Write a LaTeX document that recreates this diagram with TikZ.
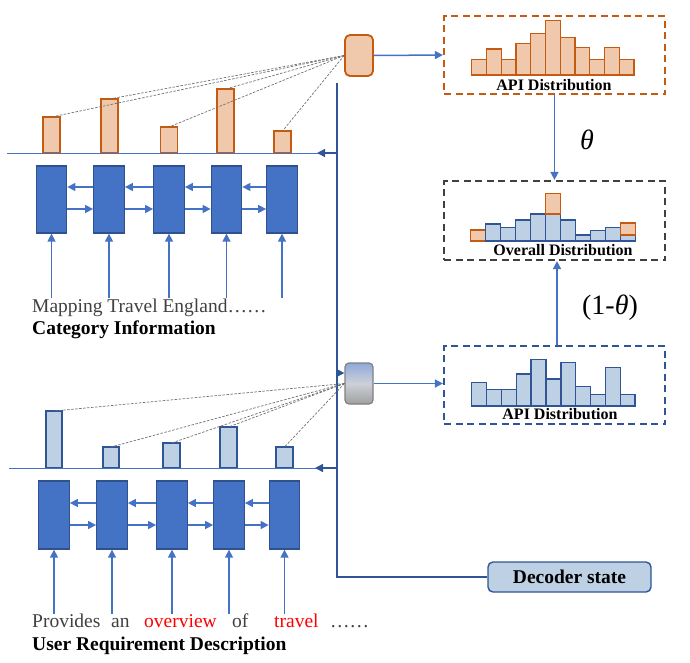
\documentclass[tikz,border=0pt]{standalone}
\usepackage{fontspec}
\setmainfont{Liberation Serif}
\usetikzlibrary{arrows.meta,calc}
\definecolor{olight}{HTML}{F0C8AC}
\definecolor{odark}{HTML}{C55A11}
\definecolor{blight}{HTML}{BDD0E4}
\definecolor{bdark}{HTML}{2F5597}
\definecolor{lstmfill}{HTML}{4472C4}
\definecolor{lstmline}{HTML}{2F528F}
\definecolor{arrblue}{HTML}{4472C4}
\definecolor{txtgray}{HTML}{404040}
\definecolor{boxgray}{HTML}{404040}
\definecolor{attgray}{HTML}{707070}
\definecolor{txtred}{HTML}{FF0000}
\definecolor{gtop}{HTML}{8EA9DB}
\definecolor{gmid}{HTML}{CDD0D8}
\definecolor{gbot}{HTML}{A0A0A0}
\begin{document}
\begin{tikzpicture}[x=1pt,y=-1pt,
  lstm/.style={draw=lstmline,fill=lstmfill,line width=1.3pt,minimum width=30.5,minimum height=67,inner sep=0pt},
  obar/.style={draw=odark,fill=olight,line width=1.6pt,minimum width=17,inner sep=0pt},
  bbar/.style={draw=bdark,fill=blight,line width=1.6pt,minimum width=16.5,inner sep=0pt},
  obarr/.style={draw=odark,fill=olight,line width=1.4pt},
  bbarr/.style={draw=bdark,fill=blight,line width=1.4pt},
  arr/.style={draw=arrblue,line width=1.5pt,-{Triangle[length=8pt,width=8pt]}},
  darr/.style={draw=bdark,line width=1.5pt,-{Triangle[length=8pt,width=8pt]}},
  hline/.style={draw=arrblue,line width=1pt},
  vline/.style={draw=bdark,line width=1.5pt},
  att/.style={draw=attgray,line width=0.7pt,dash pattern=on 2.5pt off 1.5pt},
  distbox/.style={line width=2.2pt,dash pattern=on 7pt off 4.5pt,minimum width=221,minimum height=78,inner sep=0pt},
  txt/.style={inner sep=0pt,anchor=base west,font=\fontsize{19.5}{22}\selectfont},
  lab/.style={inner sep=0pt,anchor=base,font=\fontsize{16}{18}\selectfont\bfseries}
]
\useasboundingbox (0,0) rectangle (690,662);

% ---------- top encoder ----------
\foreach \i/\x in {1/51.5,2/109,3/169,4/226.5,5/282}
  \node[lstm] (t\i) at (\x,199.5) {};
\foreach \i/\j in {1/2,2/3,3/4,4/5} {
  \draw[arr] ($(t\j.west)+(0,-12.5)$) -- ($(t\i.east)+(0,-12.5)$);
  \draw[arr] ($(t\i.east)+(0,9.5)$) -- ($(t\j.west)+(0,9.5)$);
}
\foreach \i in {1,...,5}
  \draw[arr] (t\i.south) ++(0,64) -- (t\i.south);

\foreach \i/\x/\h in {1/51.5/36,2/109.5/54,3/169/26,4/225.5/64,5/282.5/22}
  \node[obar,minimum height=\h,anchor=south,outer sep=0pt] (ob\i) at (\x,153) {};

\coordinate (hl1) at (7,153);
\coordinate (hr1) at (337,153);
\draw[hline] (hr1) -- (hl1);
\draw[darr] (hr1) -- ++(-20,0);

\node[txt,text=txtgray] (s1) at (32,312) {Mapping Travel England……};
\node[txt,font=\fontsize{19.5}{22}\selectfont\bfseries] (c1) at (32,334) {Category Information};

% ---------- bottom encoder ----------
\foreach \i/\x in {1/54,2/112,3/172,4/229,5/284.5}
  \node[lstm,minimum height=68] (u\i) at (\x,515) {};
\foreach \i/\j in {1/2,2/3,3/4,4/5} {
  \draw[arr] ($(u\j.west)+(0,-12)$) -- ($(u\i.east)+(0,-12)$);
  \draw[arr] ($(u\i.east)+(0,10)$) -- ($(u\j.west)+(0,10)$);
}
\foreach \i in {1,...,5}
  \draw[arr] (u\i.south) ++(0,64) -- (u\i.south);

\foreach \i/\x/\h in {1/54/57,2/111/21,3/171.5/25,4/228.5/41,5/284.5/21}
  \node[bbar,minimum height=\h,anchor=south,outer sep=0pt] (bb\i) at (\x,468) {};

\coordinate (hl2) at (9,468);
\coordinate (hr2) at (337,468);
\draw[hline] (hr2) -- (hl2);
\draw[darr] (hr2) -- ++(-22,0);

\node[txt,text=txtgray] (w1) at (32,627) {Provides};
\node[txt,text=txtgray] (w2) at (111,627) {an};
\node[txt,text=txtred] (w3) at (144,627) {overview};
\node[txt,text=txtgray] (w4) at (232,627) {of};
\node[txt,text=txtred] (w5) at (274,627) {travel};
\node[txt,text=txtgray] (w6) at (330,627) {……};
\node[txt,font=\fontsize{19.5}{22}\selectfont\bfseries] (c2) at (32,650) {User Requirement Description};

% ---------- decoder side ----------
\node[draw=odark,fill=olight,line width=1.8pt,rounded corners=5pt,minimum width=28,minimum height=41,inner sep=0pt] (obox) at (359,55.5) {};
\node[draw=gray,top color=gtop,bottom color=gbot,middle color=gmid,line width=1.2pt,rounded corners=4pt,minimum width=28,minimum height=41,inner sep=0pt] (gbox) at (359,383.5) {};

\node[draw=bdark,fill=blight,line width=1.4pt,rounded corners=5pt,minimum width=163,minimum height=30,inner sep=0pt,font=\fontsize{19.5}{22}\selectfont\bfseries] (dec) at (569.5,577) {Decoder state};

\coordinate (vtop) at (337,83);
\draw[vline] (vtop) -- (vtop |- dec.west) -- (dec.west);
\coordinate (ga) at (337,373);
\draw[darr] (ga) -- (ga -| gbox.west);

\foreach \i in {1,...,5} \draw[att] (obox.west) -- (ob\i.north);
\foreach \i in {1,...,5} \draw[att] (gbox.west) -- (bb\i.north);

% distribution boxes
\node[distbox,draw=odark] (od) at (554.5,55) {};
\node[distbox,draw=boxgray,minimum height=79] (ov) at (554.5,220.5) {};
\node[distbox,draw=bdark] (bd) at (554.5,385) {};

\draw[arr] (obox.east) -- (od.west);
\draw[arr] (gbox.east) -- (gbox.east -| bd.west);
\draw[arr] (od.south) -- (ov.north);
\draw[arr] ($(bd.north)+(2.5,0)$) -- ($(ov.south)+(2.5,0)$);

\node[inner sep=0pt,font=\fontsize{28}{30}\selectfont\itshape] (th) at (587,140) {θ};
\node[inner sep=0pt,font=\fontsize{28}{30}\selectfont] (th2) at (610,308) {(1-\textit{θ})};

% top API histogram
\foreach \t [count=\i from 0] in {59.3,49,59.3,43.7,33.7,20.7,37.7,47.7,59.3,47.7,59.3}
  \draw[obarr] ({471.7+14.75*\i},75) rectangle ({471.7+14.75*(\i+1)},\t);
\node[lab] (l1) at (554,90) {API Distribution};

% overall histogram
\draw[obarr] (470.7,241) rectangle (485.7,230);
\foreach \t [count=\i from 1] in {224,227.3,220,214,214,220,235,230.7,227.3,235}
  \draw[bbarr] ({470.7+15*\i},241) rectangle ({470.7+15*(\i+1)},\t);
\draw[obarr] (545.7,214) rectangle (560.7,193.3);
\draw[obarr] (620.7,235) rectangle (635.7,223);
\node[lab] (l2) at (563,255) {Overall Distribution};

% bottom API histogram
\foreach \t [count=\i from 0] in {382.3,389.3,389.3,374,359.3,379,362.7,386.7,394.7,367.7,394.7}
  \draw[bbarr] ({471.7+14.85*\i},406) rectangle ({471.7+14.85*(\i+1)},\t);
\node[lab] (l3) at (560,419) {API Distribution};
\end{tikzpicture}
\end{document}
